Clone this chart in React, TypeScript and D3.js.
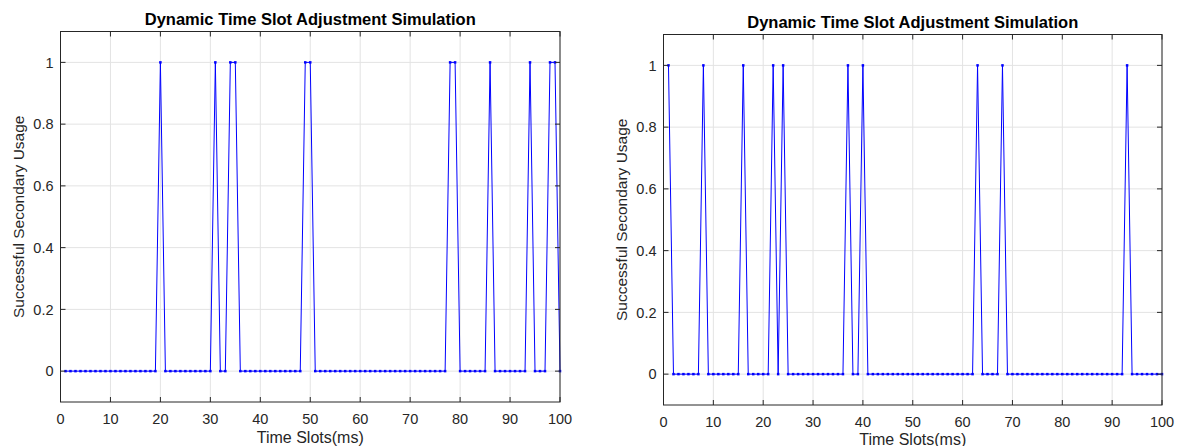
import React from "react";
import * as d3 from "d3";

const titleText = "Dynamic Time Slot Adjustment Simulation";
const xLabelText = "Time Slots(ms)";
const yLabelText = "Successful Secondary Usage";
const xTicks = [0, 10, 20, 30, 40, 50, 60, 70, 80, 90, 100];
const yTicks = [0, 0.2, 0.4, 0.6, 0.8, 1];
const yTickLabels = ["0", "0.2", "0.4", "0.6", "0.8", "1"];

// Time slots 1..100
const slotsLeft = d3.range(1, 101);
const usageLeft = [
  0, 0, 0, 0, 0, 0, 0, 0, 0, 0,
  0, 0, 0, 0, 0, 0, 0, 0, 0, 1,
  0, 0, 0, 0, 0, 0, 0, 0, 0, 0,
  1, 0, 0, 1, 1, 0, 0, 0, 0, 0,
  0, 0, 0, 0, 0, 0, 0, 0, 1, 1,
  0, 0, 0, 0, 0, 0, 0, 0, 0, 0,
  0, 0, 0, 0, 0, 0, 0, 0, 0, 0,
  0, 0, 0, 0, 0, 0, 0, 1, 1, 0,
  0, 0, 0, 0, 0, 1, 0, 0, 0, 0,
  0, 0, 0, 1, 0, 0, 0, 1, 1, 0,
];
const slotsRight = d3.range(1, 101);
const usageRight = [
  1, 0, 0, 0, 0, 0, 0, 1, 0, 0,
  0, 0, 0, 0, 0, 1, 0, 0, 0, 0,
  0, 1, 0, 1, 0, 0, 0, 0, 0, 0,
  0, 0, 0, 0, 0, 0, 1, 0, 0, 1,
  0, 0, 0, 0, 0, 0, 0, 0, 0, 0,
  0, 0, 0, 0, 0, 0, 0, 0, 0, 0,
  0, 0, 1, 0, 0, 0, 0, 1, 0, 0,
  0, 0, 0, 0, 0, 0, 0, 0, 0, 0,
  0, 0, 0, 0, 0, 0, 0, 0, 0, 0,
  0, 0, 1, 0, 0, 0, 0, 0, 0, 0,
];

const FONT = "'Liberation Sans', Arial, Helvetica, sans-serif";
const TXT = "#262626";
const GRID = "#e3e3e3";
const BLUE = "#0000ff";

type PanelProps = {
  x0: number; x1: number; yTop: number; yBot: number;
  slots: number[]; values: number[];
  titleY: number; xLabelY: number; yLabelX: number;
};

function Panel({ x0, x1, yTop, yBot, slots, values, titleY, xLabelY, yLabelX }: PanelProps) {
  const x = d3.scaleLinear().domain([0, 100]).range([x0, x1]);
  const y = d3.scaleLinear().domain([-0.1, 1.1]).range([yBot, yTop]);
  const pts = slots.map((s, i) => [s, values[i]] as [number, number]);
  const line = d3.line<[number, number]>().x(d => x(d[0])).y(d => y(d[1]));
  const tl = 5;
  const cx = (x0 + x1) / 2;
  const cy = (yTop + yBot) / 2;
  return (
    <g>
      {xTicks.map(t => (
        <line key={"gx" + t} x1={x(t)} x2={x(t)} y1={yTop} y2={yBot} stroke={GRID} strokeWidth={1} />
      ))}
      {yTicks.map(t => (
        <line key={"gy" + t} x1={x0} x2={x1} y1={y(t)} y2={y(t)} stroke={GRID} strokeWidth={1} />
      ))}
      <path d={line(pts) || ""} fill="none" stroke={BLUE} strokeWidth={1} />
      {pts.map((p, i) => (
        <rect key={"m" + i} x={x(p[0]) - 1.25} y={y(p[1]) - 1.25} width={2.5} height={2.5} fill={BLUE} />
      ))}
      <rect x={x0} y={yTop} width={x1 - x0} height={yBot - yTop} fill="none" stroke={TXT} strokeWidth={1} />
      {xTicks.map(t => (
        <g key={"tx" + t}>
          <line x1={x(t)} x2={x(t)} y1={yBot} y2={yBot - tl} stroke={TXT} />
          <line x1={x(t)} x2={x(t)} y1={yTop} y2={yTop + tl} stroke={TXT} />
          <text x={x(t)} y={yBot + 21.5} textAnchor="middle" fontSize={14.5} fill={TXT} fontFamily={FONT}>{t}</text>
        </g>
      ))}
      {yTicks.map((t, i) => (
        <g key={"ty" + t}>
          <line x1={x0} x2={x0 + tl} y1={y(t)} y2={y(t)} stroke={TXT} />
          <line x1={x1} x2={x1 - tl} y1={y(t)} y2={y(t)} stroke={TXT} />
          <text x={x0 - 7} y={y(t) + 5.2} textAnchor="end" fontSize={14.5} fill={TXT} fontFamily={FONT}>{yTickLabels[i]}</text>
        </g>
      ))}
      <text x={cx} y={titleY} textAnchor="middle" fontSize={16.5} fontWeight="bold" fill="#000" fontFamily={FONT}>{titleText}</text>
      <text x={cx} y={xLabelY} textAnchor="middle" fontSize={16} fill={TXT} fontFamily={FONT}>{xLabelText}</text>
      <text transform={`translate(${yLabelX},${cy}) rotate(-90)`} textAnchor="middle" fontSize={15.5} fill={TXT} fontFamily={FONT}>{yLabelText}</text>
    </g>
  );
}

export default function App() {
  return (
    <svg width={1183} height={446} style={{ position: "absolute", left: 0, top: 0, background: "#fff" }}>
      <rect x={0} y={0} width={1183} height={446} fill="#fff" />
      <Panel x0={60.5} x1={560} yTop={31.5} yBot={402} slots={slotsLeft} values={usageLeft}
        titleY={24.5} xLabelY={443} yLabelX={24} />
      <Panel x0={663.5} x1={1162} yTop={34.5} yBot={405} slots={slotsRight} values={usageRight}
        titleY={27.5} xLabelY={445} yLabelX={627} />
    </svg>
  );
}
